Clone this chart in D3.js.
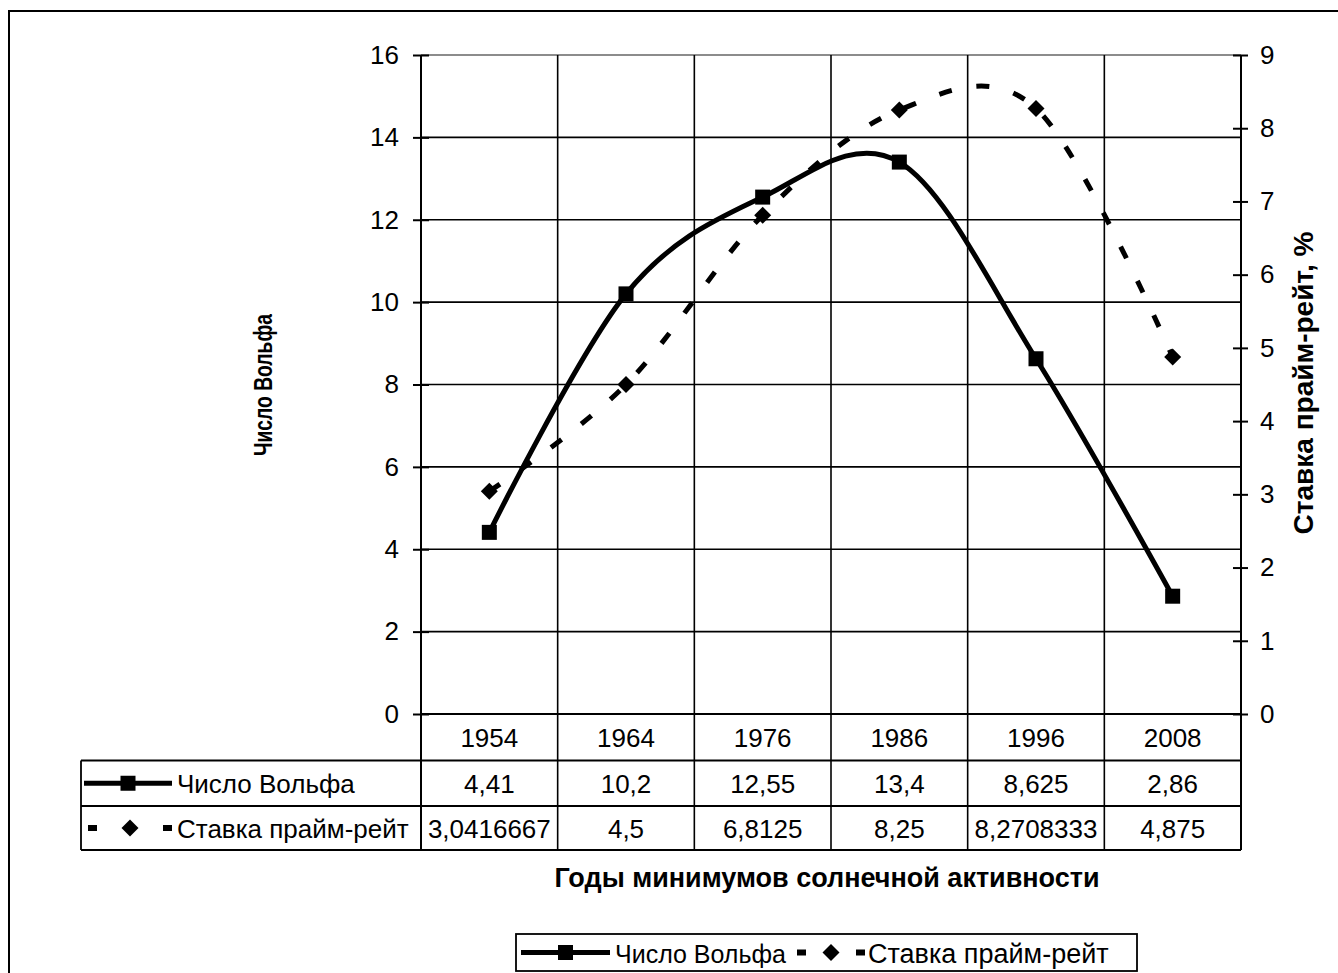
<!DOCTYPE html>
<html><head><meta charset="utf-8">
<script src="https://cdn.jsdelivr.net/npm/d3@7"></script>
<style>
html,body{margin:0;padding:0;background:#fff;}
svg{display:block;font-family:"Liberation Sans",Arial,sans-serif;}
</style></head>
<body>
<svg id="c" width="1338" height="973"></svg>
<script>
const years = ["1954","1964","1976","1986","1996","2008"];
const wolf = [4.41, 10.2, 12.55, 13.4, 8.625, 2.86];
const prime = [3.0416667, 4.5, 6.8125, 8.25, 8.2708333, 4.875];
const wolfLabels = ["4,41","10,2","12,55","13,4","8,625","2,86"];
const primeLabels = ["3,0416667","4,5","6,8125","8,25","8,2708333","4,875"];
const leftTicks = [0,2,4,6,8,10,12,14,16];
const rightTicks = [0,1,2,3,4,5,6,7,8,9];
const seriesNames = ["Число Вольфа","Ставка прайм-рейт"];
const xTitle = "Годы минимумов солнечной активности";
const yLeftTitle = "Число Вольфа";
const yRightTitle = "Ставка прайм-рейт, %";

const svg = d3.select("#c");
const L = 421, R = 1241, T = 55, B = 714;
const tableLeft = 81, row1 = 760.5, row2 = 806, row3 = 850;
const FS = 26, FT = 27;

const x = d3.scaleBand().domain(years).range([L, R]).padding(0);
const yL = d3.scaleLinear().domain([0,16]).range([B, T]);
const yR = d3.scaleLinear().domain([0,9]).range([B, T]);
const cx = d => x(d) + x.bandwidth()/2;

// outer border
svg.append("rect").attr("x",9).attr("y",11).attr("width",1400).attr("height",1000)
  .attr("fill","none").attr("stroke","#000").attr("stroke-width",2);

// horizontal gridlines
const g = svg.append("g");
g.selectAll("line.h").data(leftTicks.filter(v=>v>0 && v<16)).join("line")
  .attr("x1",L).attr("x2",R).attr("y1",d=>yL(d)).attr("y2",d=>yL(d))
  .attr("stroke","#000").attr("stroke-width",1.6);
g.append("line").attr("x1",L).attr("x2",R).attr("y1",yL(16)).attr("y2",yL(16))
  .attr("stroke","#8c8c8c").attr("stroke-width",2);
// vertical gridlines through the table
const bounds = years.map(d=>x(d)).concat([R]);
g.selectAll("line.v").data(bounds).join("line")
  .attr("x1",d=>d).attr("x2",d=>d).attr("y1",T).attr("y2",row3)
  .attr("stroke","#000").attr("stroke-width",d=>(d===L||d===R)?2:1.6);
// zero line and table lines
g.append("line").attr("x1",L).attr("x2",R).attr("y1",B).attr("y2",B).attr("stroke","#000").attr("stroke-width",2.2);
[row1,row2,row3].forEach(yy=>{
  g.append("line").attr("x1",tableLeft).attr("x2",R).attr("y1",yy).attr("y2",yy).attr("stroke","#000").attr("stroke-width",1.8);
});
g.append("line").attr("x1",tableLeft).attr("x2",tableLeft).attr("y1",row1).attr("y2",row3).attr("stroke","#000").attr("stroke-width",1.8);

// left axis
const axL = svg.append("g").attr("transform",`translate(${L},0)`)
  .call(d3.axisLeft(yL).tickValues(leftTicks).tickSize(8).tickPadding(14).tickFormat(d3.format("d")));
axL.select(".domain").remove();
axL.selectAll(".tick line").attr("x1",8).attr("stroke","#000").attr("stroke-width",2);
axL.selectAll(".tick text").attr("font-size",FS).attr("font-family","Liberation Sans, Arial, sans-serif").attr("fill","#000");
// right axis
const axR = svg.append("g").attr("transform",`translate(${R},0)`)
  .call(d3.axisRight(yR).tickValues(rightTicks).tickSize(7).tickPadding(12).tickFormat(d3.format("d")));
axR.select(".domain").remove();
axR.selectAll(".tick line").attr("x1",-8).attr("stroke","#000").attr("stroke-width",2);
axR.selectAll(".tick text").attr("font-size",FS).attr("font-family","Liberation Sans, Arial, sans-serif").attr("fill","#000");

// curves
const lineW = d3.line().x((d,i)=>cx(years[i])).y(d=>yL(d)).curve(d3.curveCardinal.tension(0));
const lineP = d3.line().x((d,i)=>cx(years[i])).y(d=>yR(d)).curve(d3.curveCardinal.tension(0));
svg.append("path").attr("d",lineP(prime)).attr("fill","none").attr("stroke","#000")
  .attr("stroke-width",5).attr("stroke-dasharray","13,25");
svg.append("path").attr("d",lineW(wolf)).attr("fill","none").attr("stroke","#000")
  .attr("stroke-width",5).attr("stroke-linejoin","round");
// markers
const sq = 15, dm = 8.5;
svg.selectAll("rect.mw").data(wolf).join("rect")
  .attr("x",(d,i)=>cx(years[i])-sq/2).attr("y",d=>yL(d)-sq/2).attr("width",sq).attr("height",sq).attr("fill","#000");
svg.selectAll("path.mp").data(prime).join("path")
  .attr("d",(d,i)=>{const X=cx(years[i]),Y=yR(d);return `M${X},${Y-dm}L${X+dm},${Y}L${X},${Y+dm}L${X-dm},${Y}Z`;})
  .attr("fill","#000");

// table text
const txt = (xx,yy,s,anchor,size,weight)=>svg.append("text").attr("x",xx).attr("y",yy).text(s)
  .attr("text-anchor",anchor||"middle").attr("font-size",size||FS).attr("font-weight",weight||"normal")
  .attr("dominant-baseline","central").attr("fill","#000");
years.forEach((d,i)=>{
  txt(cx(d),(B+row1)/2+1,d);
  txt(cx(d),(row1+row2)/2+1,wolfLabels[i]);
  txt(cx(d),(row2+row3)/2+1,primeLabels[i]);
});

// legend key helpers
function keySolid(x1,x2,yy){
  svg.append("line").attr("x1",x1).attr("x2",x2).attr("y1",yy).attr("y2",yy).attr("stroke","#000").attr("stroke-width",5);
  const m=(x1+x2)/2;
  svg.append("rect").attr("x",m-sq/2).attr("y",yy-sq/2).attr("width",sq).attr("height",sq).attr("fill","#000");
}
function keyDash(x1,x2,yy){
  svg.append("rect").attr("x",x1).attr("y",yy-3).attr("width",9).attr("height",6).attr("fill","#000");
  svg.append("rect").attr("x",x2-9).attr("y",yy-3).attr("width",9).attr("height",6).attr("fill","#000");
  const m=(x1+x2)/2;
  svg.append("path").attr("d",`M${m},${yy-dm}L${m+dm},${yy}L${m},${yy+dm}L${m-dm},${yy}Z`).attr("fill","#000");
}
keySolid(84,172,(row1+row2)/2);
keyDash(88,172,(row2+row3)/2);
txt(177,(row1+row2)/2+1,seriesNames[0],"start");
txt(177,(row2+row3)/2+1,seriesNames[1],"start");

// axis titles
txt(827,878,xTitle,"middle",FT,"bold");
svg.append("text").attr("transform",`translate(263,385) rotate(-90)`).text(yLeftTitle)
  .attr("text-anchor","middle").attr("dominant-baseline","central").attr("font-size",25).attr("font-weight","bold")
  .attr("textLength",142).attr("lengthAdjust","spacingAndGlyphs");
svg.append("text").attr("transform",`translate(1303,383) rotate(-90)`).text(yRightTitle)
  .attr("text-anchor","middle").attr("dominant-baseline","central").attr("font-size",FT+1).attr("font-weight","bold");

// bottom legend
svg.append("rect").attr("x",516).attr("y",934).attr("width",621).attr("height",37)
  .attr("fill","#fff").attr("stroke","#000").attr("stroke-width",1.8);
keySolid(521,610,952.5);
txt(615,953.5,seriesNames[0],"start",FS-1);
keyDash(797,865,952.5);
txt(868,953.5,seriesNames[1],"start",FS+1);
</script>
</body></html>
